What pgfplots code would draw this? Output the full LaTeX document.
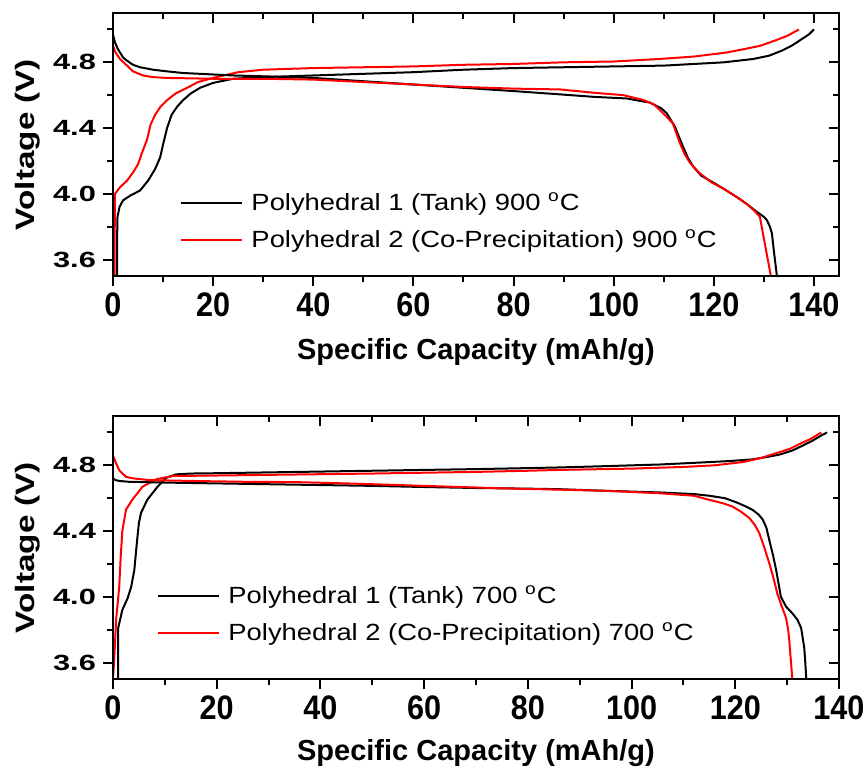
\documentclass[border=0pt]{standalone}
\usepackage{pgfplots}
\pgfplotsset{compat=1.18}
\usepackage{fontspec}
\setmainfont{Liberation Sans}
\newfontfamily\xtickfont[FakeStretch=0.9]{Liberation Sans}
\newfontfamily\ytickfont[FakeStretch=1.4]{Liberation Sans}
\newfontfamily\ylabfont[FakeStretch=1.25]{Liberation Sans}
\newfontfamily\legfont[FakeStretch=1.17]{Liberation Sans}

\pgfplotsset{
  panel/.style={
    width=363pt, height=131.5pt, scale only axis,
    xmin=0, ymin=3.5, ymax=5.1,
    xtick={0,20,...,140}, minor xtick={10,30,...,130},
    ytick={3.6,4.0,4.4,4.8}, minor ytick={3.8,4.2,4.6,5.0},
    axis line style={line width=1pt},
    major tick length=5pt, minor tick length=3pt,
    major tick style={line width=1pt, black},
    minor tick style={line width=1pt, black},
  },
  mainax/.style={panel,
    tick pos=left, tick align=outside,
    /pgf/number format/assume math mode=true,
    yticklabel style={/pgf/number format/fixed, /pgf/number format/fixed zerofill,
      /pgf/number format/precision=1},
    xticklabel style={font=\xtickfont\fontsize{17}{17}\selectfont\bfseries},
    yticklabel style={font=\ytickfont\fontsize{11}{11}\selectfont\bfseries},
    xlabel={Specific Capacity (mAh/g)}, ylabel={Voltage (V)},
    xlabel style={font=\fontsize{14.5}{15}\selectfont\bfseries,
      at={(axis description cs:0.5,0)}, yshift=-38pt, anchor=center},
    ylabel style={font=\ylabfont\fontsize{13.3}{14}\selectfont\bfseries,
      at={(axis description cs:-0.117,0.5)}, anchor=center},
    legend style={draw=none, fill=none, inner sep=0pt, anchor=west,
      font=\legfont\fontsize{11.7}{12}\selectfont, row sep=0pt, column sep=0pt,
      nodes={inner sep=0pt, minimum height=18.5pt}},
    legend cell align=left,
    legend image code/.code={\draw[#1] (0pt,0pt) -- (30.5pt,0pt); \path (34.5pt,0pt);},
  },
  mirrorax/.style={panel, tick pos=right, tick align=inside,
    xticklabels={}, yticklabels={}},
  blk/.style={black, line width=1pt},
  rd/.style={red, line width=1pt},
}

\begin{document}
\begin{tikzpicture}
\path[use as bounding box] (-56.5pt,6.5pt) rectangle (375.5pt,-382.5pt);

% ---- 900 C ----
\begin{axis}[mainax, xmax=145, at={(0pt,0pt)}, anchor=north west,
  legend style={at={(axis cs:13.4,3.832)}}]
\addplot[blk] coordinates {
(0.8,3.50) (0.8,3.70) (0.9,3.86) (1.3,3.92) (2,3.96) (3.5,3.99) (5.4,4.02) (7,4.08)
(8.4,4.15) (9.4,4.22) (10,4.30) (10.8,4.40) (11.7,4.48) (12.8,4.53) (14,4.57)
(15.5,4.61) (17.4,4.645) (20,4.675) (24,4.70) (30,4.71) (40,4.72) (50,4.73)
(60,4.74) (70,4.755) (80,4.765) (90,4.77) (100,4.775) (110,4.78) (116,4.79)
(122,4.80) (127.8,4.82) (131,4.84) (133.5,4.87) (135.5,4.90) (137.5,4.94)
(139,4.97) (140,5.00)};
\addlegendentry{Polyhedral 1 (Tank) 900 \textsuperscript{o}C}
\addplot[rd] coordinates {
(0.3,3.50) (0.35,3.80) (0.4,4.00) (1.4,4.04) (2.8,4.08) (4,4.13) (5,4.18) (5.8,4.25)
(6.8,4.33) (7.5,4.42) (8.4,4.48) (9.5,4.53) (10.8,4.57) (12.5,4.61) (14.8,4.645)
(17,4.68) (20,4.705) (25,4.74) (30,4.755) (40,4.765) (50,4.77) (60,4.775)
(70,4.785) (80,4.79) (90,4.80) (100,4.805) (109,4.82) (116,4.835) (122.6,4.86)
(126,4.88) (129.2,4.90) (132,4.93) (134.6,4.96) (137,5.00)};
\addlegendentry{Polyhedral 2 (Co-Precipitation) 900 \textsuperscript{o}C}
\addplot[blk, forget plot] coordinates {
(0,4.97) (0.4,4.92) (1,4.88) (2,4.83) (2.8,4.81) (4,4.785) (5.4,4.77) (8,4.755)
(10.8,4.745) (14,4.735) (17.4,4.73) (24,4.72) (30,4.715) (40,4.705) (50,4.685)
(60,4.665) (70,4.645) (80,4.625) (89.3,4.605) (96,4.59) (102.6,4.58) (107.2,4.555)
(109.5,4.52) (110.6,4.49) (111.4,4.45) (112.2,4.41) (113,4.35) (113.8,4.29)
(114.8,4.22) (115.9,4.165) (117.5,4.11) (119.8,4.07) (122,4.03) (124.6,3.98)
(126.5,3.94) (128.6,3.89) (130,3.86) (130.6,3.84) (131.2,3.80) (131.6,3.76)
(132,3.65) (132.6,3.50)};
\addplot[rd, forget plot] coordinates {
(0,4.90) (0.5,4.86) (1.4,4.82) (2.8,4.78) (4,4.745) (6,4.72) (8,4.71) (10.8,4.705)
(20,4.70) (30,4.70) (40,4.695) (50,4.68) (60,4.665) (70,4.65) (80,4.64)
(89.3,4.635) (96,4.615) (102,4.60) (106,4.57) (108,4.545) (109.2,4.51)
(110.5,4.47) (111.8,4.43) (112.5,4.37) (113.2,4.31) (114.2,4.24) (115.2,4.19)
(117,4.13) (119.5,4.07) (122,4.03) (124.6,3.98) (126.5,3.94) (128,3.90)
(129.2,3.86) (129.5,3.81) (129.8,3.76) (130.6,3.63) (131.4,3.50)};
\end{axis}
\begin{axis}[mirrorax, xmax=145, at={(0pt,0pt)}, anchor=north west]
\end{axis}

% ---- 700 C ----
\begin{axis}[mainax, xmax=140, at={(0pt,-201.5pt)}, anchor=north west,
  xlabel style={yshift=1pt},
  legend style={at={(axis cs:8.5,3.89)}}]
\addplot[blk] coordinates {
(1.0,3.50) (1.0,3.81) (1.8,3.92) (2.8,3.99) (3.5,4.06) (4.1,4.16) (4.4,4.26)
(4.7,4.36) (5.0,4.45) (5.4,4.51) (6.6,4.59) (8.6,4.67) (10.3,4.725) (12.2,4.745)
(15,4.75) (20,4.752) (30,4.757) (40,4.762) (50,4.767) (60,4.772) (70,4.777)
(80,4.783) (86,4.787) (95,4.795) (105.4,4.805) (112,4.815) (118.3,4.825)
(123,4.835) (126,4.85) (128.5,4.865) (131,4.89) (133,4.92) (134.9,4.95)
(136.5,4.98) (137.7,5.00)};
\addlegendentry{Polyhedral 1 (Tank) 700 \textsuperscript{o}C}
\addplot[rd] coordinates {
(0,3.50) (0.3,3.66) (0.6,3.86) (1.2,4.06) (1.5,4.25) (1.8,4.40) (2.5,4.53)
(3.7,4.59) (5.7,4.67) (8.3,4.715) (11.5,4.735) (20,4.738) (30,4.742) (40,4.746)
(50,4.75) (60,4.755) (70,4.76) (80,4.767) (86,4.772) (100,4.78) (110,4.79)
(116,4.80) (121.5,4.82) (125,4.845) (128,4.875) (130.5,4.90) (132.4,4.93)
(134.5,4.96) (136.6,5.00)};
\addlegendentry{Polyhedral 2 (Co-Precipitation) 700 \textsuperscript{o}C}
\addplot[blk, forget plot] coordinates {
(0,4.72) (0.5,4.71) (1.2,4.705) (3,4.70) (10,4.695) (20,4.69) (30,4.685)
(40,4.68) (50,4.675) (60,4.668) (70,4.662) (80,4.658) (86,4.655) (95,4.645)
(105.4,4.635) (112,4.625) (115,4.615) (118,4.60) (120.2,4.575) (122,4.55)
(123.3,4.53) (124.5,4.50) (125.3,4.47) (126,4.42) (126.6,4.34) (127.3,4.25)
(127.9,4.16) (128.4,4.07) (128.8,4.00) (129.8,3.94) (131,3.90) (132,3.86)
(132.7,3.81) (133,3.75) (133.3,3.69) (133.5,3.60) (133.7,3.50)};
\addplot[rd, forget plot] coordinates {
(0,4.86) (0.5,4.82) (1.2,4.77) (2.5,4.73) (4,4.72) (7,4.71) (15,4.705) (25,4.70)
(35,4.698) (45,4.69) (55,4.68) (65,4.67) (75,4.66) (86,4.652) (95,4.645)
(105.4,4.63) (112,4.615) (115,4.59) (117.5,4.57) (119.4,4.55) (121,4.52)
(122.7,4.48) (123.7,4.44) (124.6,4.39) (125.6,4.30) (126.6,4.20) (127.4,4.11)
(128.1,4.02) (129,3.94) (129.8,3.87) (130.2,3.80) (130.4,3.74) (130.7,3.62)
(131,3.50)};
\end{axis}
\begin{axis}[mirrorax, xmax=140, at={(0pt,-201.5pt)}, anchor=north west]
\end{axis}
\end{tikzpicture}
\end{document}
